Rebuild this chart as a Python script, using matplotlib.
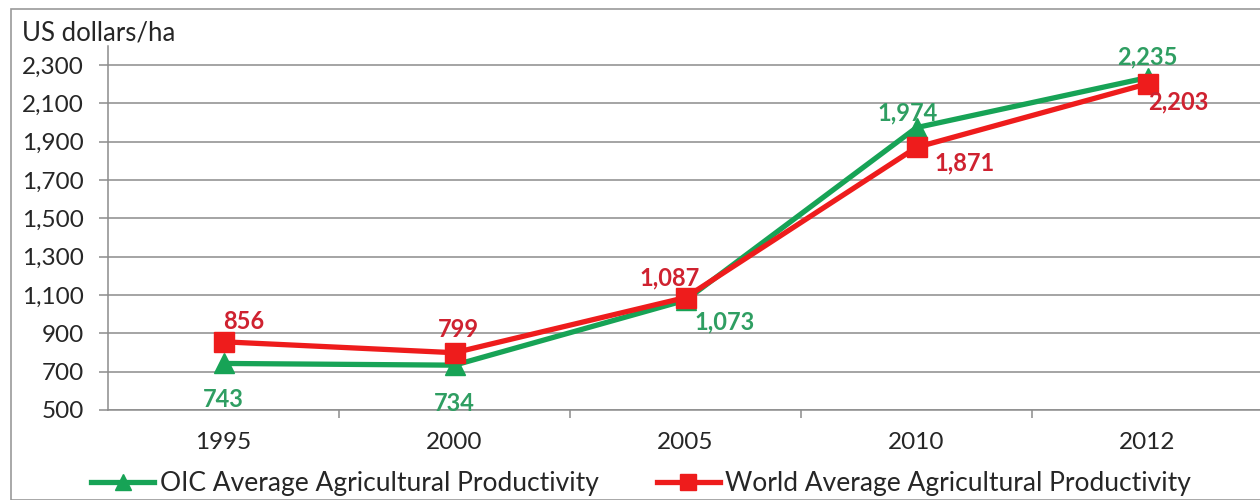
import matplotlib
matplotlib.use('Agg')
import matplotlib.pyplot as plt
from matplotlib.patches import Rectangle

# data
years = ['1995', '2000', '2005', '2010', '2012']
oic_values = [743, 734, 1073, 1974, 2235]
world_values = [856, 799, 1087, 1871, 2203]

# label offsets in pixels (dx, dy)
oic_offsets = [(0, -36), (0, -38), (39, -22), (-9, 15), (0, 21)]
world_offsets = [(20, 20), (4, 23), (-16, 20), (48, -16), (31, -18)]

GREEN = '#17a356'
GREEN_TXT = '#2f9e62'
RED = '#ee1c1c'
RED_TXT = '#cf2230'
GRID = '#8c8c8c'
TXT = '#262626'

plt.rcParams['font.family'] = ['Lato', 'DejaVu Sans']

fig = plt.figure(figsize=(12.6, 5.0), dpi=100)
ax = fig.add_axes([108 / 1260, 1 - 410 / 500, 1155 / 1260, 364 / 500])

x = list(range(len(years)))
ax.plot(x, oic_values, color=GREEN, lw=3.8, marker='^', ms=14, mfc=GREEN, mec=GREEN,
        label='OIC Average Agricultural Productivity', zorder=3)
ax.plot(x, world_values, color=RED, lw=3.8, marker='s', ms=15, mfc=RED, mec=RED,
        label='World Average Agricultural Productivity', zorder=4)

for i, v in enumerate(oic_values):
    ax.annotate(f'{v:,}', (x[i], v), xytext=oic_offsets[i], textcoords='offset pixels',
                ha='center', va='center', fontsize=17, fontweight='bold', color=GREEN_TXT, zorder=5)
for i, v in enumerate(world_values):
    ax.annotate(f'{v:,}', (x[i], v), xytext=world_offsets[i], textcoords='offset pixels',
                ha='center', va='center', fontsize=17, fontweight='bold', color=RED_TXT, zorder=5)

ax.set_xlim(-0.5, len(years) - 0.5)
ax.set_ylim(500, 2400)
ax.set_yticks(range(500, 2301, 200))
ax.set_yticklabels([f'{t:,}' for t in range(500, 2301, 200)], fontsize=17.5, color=TXT)
ax.yaxis.grid(True, color=GRID, lw=1.1)
ax.set_axisbelow(True)

ax.set_xticks(x)
ax.set_xticklabels(years, fontsize=17.5, color=TXT)
ax.tick_params(axis='x', length=0, pad=16)
ax.set_xticks([i + 0.5 for i in x[:-1]], minor=True)
ax.tick_params(axis='x', which='minor', length=6, color=GRID, width=1.1)
ax.tick_params(axis='y', length=6.5, color=GRID, width=1.1, pad=11)

for side in ['top', 'right']:
    ax.spines[side].set_visible(False)
for side in ['left', 'bottom']:
    ax.spines[side].set_color(GRID)
    ax.spines[side].set_linewidth(1.1)

fig.text(22 / 1260, 1 - 33 / 500, 'US dollars/ha', fontsize=18.5, color=TXT, va='center')

fig.legend(loc='center', bbox_to_anchor=(641 / 1260, 1 - 484 / 500), ncol=2, frameon=False,
           fontsize=19, handlelength=2.4, columnspacing=2.2, handletextpad=0.2,
           markerscale=0.8, labelcolor=TXT, borderpad=0, borderaxespad=0)

fig.patches.append(Rectangle((11 / 1260, 0), 1.0, 1 - 9 / 500, transform=fig.transFigure,
                             fill=False, edgecolor='#999999', lw=1.2))

fig.savefig('out.png', dpi=100)
